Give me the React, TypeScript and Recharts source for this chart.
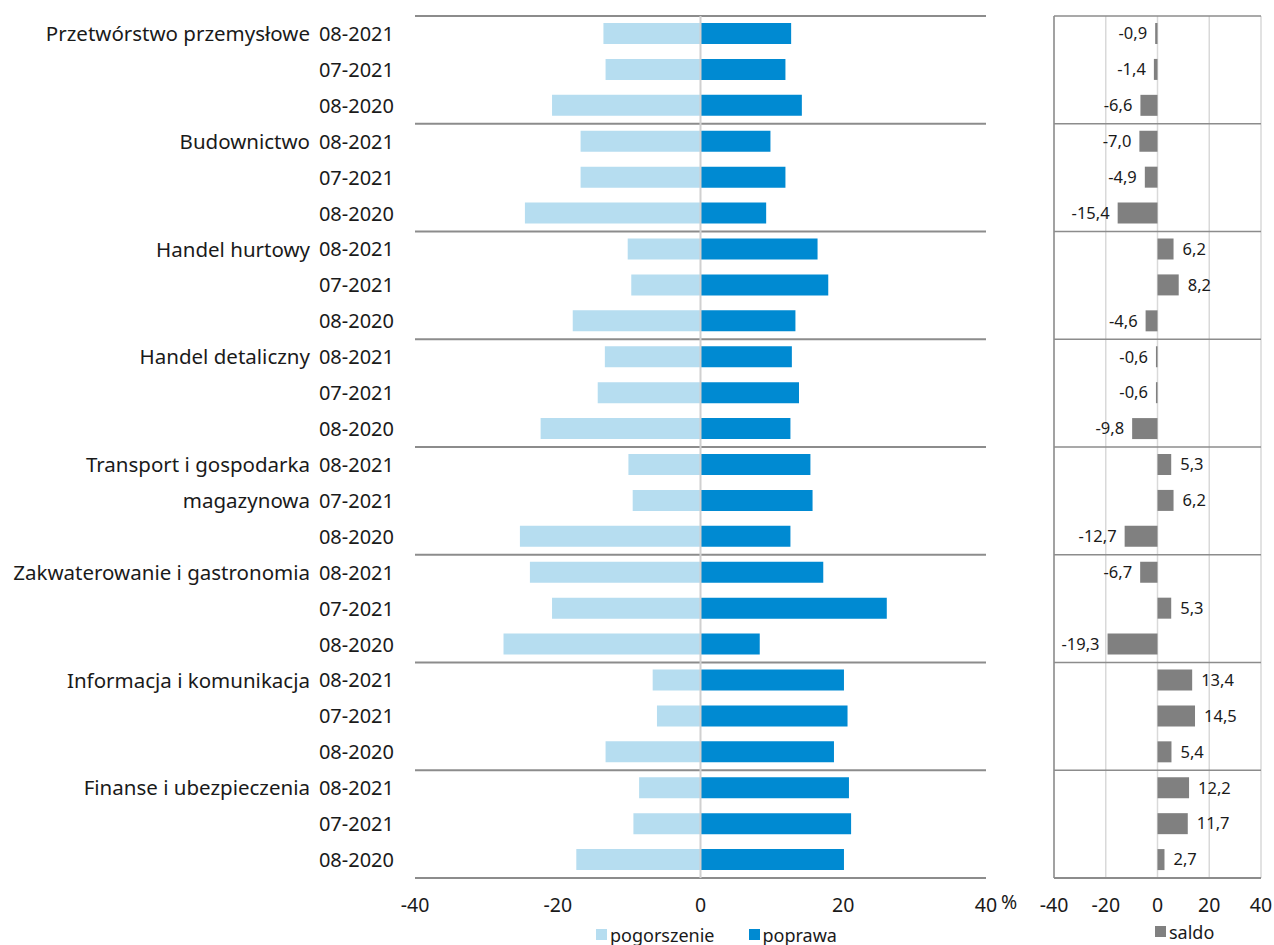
import React from "react";
import { BarChart, Bar, XAxis, YAxis, ReferenceLine, CartesianGrid, LabelList } from "recharts";

const sectorLines = [
  ["Przetwórstwo przemysłowe"],
  ["Budownictwo"],
  ["Handel hurtowy"],
  ["Handel detaliczny"],
  ["Transport i gospodarka", "magazynowa"],
  ["Zakwaterowanie i gastronomia"],
  ["Informacja i komunikacja"],
  ["Finanse i ubezpieczenia"],
];
const periods = ["08-2021", "07-2021", "08-2020"];

const pogorszenie = [13.6, 13.3, 20.8, 16.8, 16.8, 24.6, 10.2, 9.7, 17.9, 13.4, 14.4, 22.4, 10.1, 9.5, 25.3, 23.9, 20.8, 27.6, 6.7, 6.1, 13.3, 8.6, 9.4, 17.4];
const poprawa = [12.7, 11.9, 14.2, 9.8, 11.9, 9.2, 16.4, 17.9, 13.3, 12.8, 13.8, 12.6, 15.4, 15.7, 12.6, 17.2, 26.1, 8.3, 20.1, 20.6, 18.7, 20.8, 21.1, 20.1];
const saldo = [-0.9, -1.4, -6.6, -7.0, -4.9, -15.4, 6.2, 8.2, -4.6, -0.6, -0.6, -9.8, 5.3, 6.2, -12.7, -6.7, 5.3, -19.3, 13.4, 14.5, 5.4, 12.2, 11.7, 2.7];
const xTicks = [-40, -20, 0, 20, 40];
// group boundaries, in rows (3 periods per sector)
const groupEdges = [0, 3, 6, 9, 12, 15, 18, 21, 24];

const data = pogorszenie.map((p, i) => ({
  row: i,
  pogorszenie: -p,
  poprawa: poprawa[i],
  saldo: saldo[i],
}));

const LIGHT = "#b6ddf0";
const BLUE = "#008ad2";
const GREY = "#808080";
const LINE = "#8c8c8c";
const GRID = "#d9d9d9";
const FONT = "'Noto Sans', sans-serif";

// y positions of the group separators, from the plot offset
const groupLines = ({ offset }: any) =>
  groupEdges.map((e) => offset.top + (e / pogorszenie.length) * offset.height);

const RowTick = (props: any) => {
  const { x, y, payload } = props;
  const i = Number(payload.value);
  const g = Math.floor(i / 3);
  const k = i % 3;
  const sector = sectorLines[g][k];
  return (
    <g>
      <text x={x - 21} y={y} dy="0.35em" textAnchor="end" fontSize={20} fill="#1a1a1a">
        {periods[k]}
      </text>
      {sector && (
        <text x={x - 105} y={y} dy="0.35em" textAnchor="end" fontSize={20.5} fill="#1a1a1a">
          {sector}
        </text>
      )}
    </g>
  );
};

const XTick = (props: any) => {
  const { x, y, payload, pct } = props;
  return (
    <g>
      <text x={x} y={y + 27} dy="0.35em" textAnchor="middle" fontSize={19.5} fill="#1a1a1a">
        {payload.value}
      </text>
      {pct && payload.value === 40 && (
        <text x={x + 15} y={y + 24} dy="0.35em" textAnchor="start" fontSize={19.5} fill="#1a1a1a">
          %
        </text>
      )}
    </g>
  );
};

const fmt = (v: number) => v.toFixed(1).replace(".", ",");

const SaldoLabel = (props: any) => {
  const { x, y, width, height, value } = props;
  const left = Math.min(x, x + width);
  const right = Math.max(x, x + width);
  const neg = value < 0;
  return (
    <text
      x={neg ? left - 8 : right + 9}
      y={y + height / 2}
      dy="0.35em"
      textAnchor={neg ? "end" : "start"}
      fontSize={16.5}
      fill="#1a1a1a"
    >
      {fmt(value)}
    </text>
  );
};

const Swatch = ({ color, label }: { color: string; label: string }) => (
  <span style={{ display: "inline-flex", alignItems: "center", marginRight: 34 }}>
    <span style={{ width: 11, height: 11, background: color, display: "inline-block", marginRight: 3 }} />
    <span>{label}</span>
  </span>
);

export default function App() {
  return (
    <div
      style={{
        position: "absolute",
        left: 0,
        top: 0,
        width: 1274,
        height: 945,
        background: "#fff",
        fontFamily: FONT,
        overflow: "hidden",
      }}
    >
      <div style={{ position: "absolute", left: 0, top: 0 }}>
        <BarChart
          width={1030}
          height={945}
          data={data}
          layout="vertical"
          stackOffset="sign"
          margin={{ top: 16, right: 44, left: 0, bottom: 27 }}
        >
          <CartesianGrid
            vertical={false}
            horizontalCoordinatesGenerator={groupLines}
            stroke={LINE}
            strokeWidth={2}
          />
          <XAxis
            type="number"
            domain={[-40, 40]}
            ticks={xTicks}
            axisLine={false}
            tickLine={false}
            tickSize={0}
            tickMargin={0}
            height={40}
            tick={<XTick pct />}
          />
          <YAxis
            type="category"
            dataKey="row"
            width={415}
            axisLine={false}
            tickLine={false}
            tickSize={0}
            tickMargin={0}
            interval={0}
            tick={<RowTick />}
          />
          <Bar dataKey="pogorszenie" stackId="a" fill={LIGHT} barSize={21} isAnimationActive={false} />
          <Bar dataKey="poprawa" stackId="a" fill={BLUE} barSize={21} isAnimationActive={false} />
          <ReferenceLine x={0} stroke="#d0d0d0" strokeWidth={2} />
        </BarChart>
      </div>

      <div style={{ position: "absolute", left: 1030, top: 0 }}>
        <BarChart
          width={244}
          height={945}
          data={data}
          layout="vertical"
          margin={{ top: 16, right: 13, left: 24, bottom: 27 }}
        >
          <CartesianGrid horizontal={false} vertical stroke={GRID} strokeWidth={1.5} />
          <CartesianGrid
            vertical={false}
            horizontalCoordinatesGenerator={groupLines}
            stroke={LINE}
            strokeWidth={1.5}
          />
          <XAxis
            type="number"
            domain={[-40, 40]}
            ticks={xTicks}
            axisLine={{ stroke: LINE, strokeWidth: 2 }}
            tickLine={false}
            tickSize={0}
            tickMargin={0}
            height={40}
            tick={<XTick />}
          />
          <YAxis type="category" dataKey="row" hide />
          <ReferenceLine x={-40} stroke={LINE} strokeWidth={1.5} />
          <Bar dataKey="saldo" fill={GREY} barSize={21} isAnimationActive={false}>
            <LabelList dataKey="saldo" content={<SaldoLabel />} />
          </Bar>
        </BarChart>
      </div>

      <div style={{ position: "absolute", left: 596, top: 921, fontSize: 18, color: "#1a1a1a", whiteSpace: "nowrap" }}>
        <Swatch color={LIGHT} label="pogorszenie" />
        <Swatch color={BLUE} label="poprawa" />
      </div>
      <div style={{ position: "absolute", left: 1155, top: 918, fontSize: 18, color: "#1a1a1a", whiteSpace: "nowrap" }}>
        <Swatch color={GREY} label="saldo" />
      </div>
    </div>
  );
}
